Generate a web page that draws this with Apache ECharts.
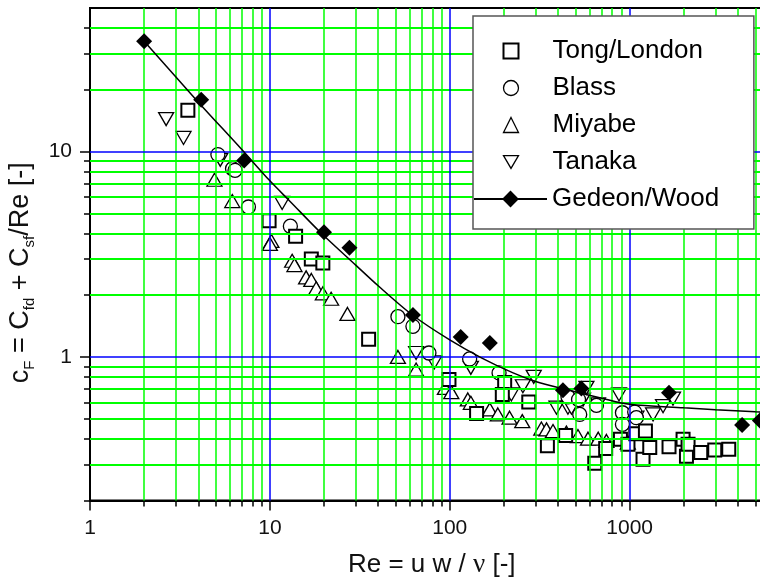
<!DOCTYPE html>
<html><head><meta charset="utf-8">
<script src="https://cdn.jsdelivr.net/npm/echarts@6/dist/echarts.min.js"></script>
<style>html,body{margin:0;padding:0;background:#fff}#c{width:760px;height:585px}</style>
</head><body><div id="c"></div>
<script>
// ---- axis ticks / labels ----
const xMajorTicks = [1, 10, 100, 1000, 10000];
const xMinorTicks = [2,3,4,5,6,7,8,9,20,30,40,50,60,70,80,90,200,300,400,500,600,700,800,900,2000,3000,4000,5000,6000,7000,8000,9000];
const yMajorTicks = [1, 10];
const yMinorTicks = [0.2,0.3,0.4,0.5,0.6,0.7,0.8,0.9,2,3,4,5,6,7,8,9,20,30,40];
const xLabels = [1, 10, 100, 1000];
const yLabels = [1, 10];
const xBlueLines = [10, 100, 1000];
const yBlueLines = [1, 10];
const xGreenLines = [2,3,4,5,6,7,8,9,20,30,40,50,60,70,80,90,200,300,400,500,600,700,800,900,2000,3000,4000,5000,6000,7000,8000,9000];
const yGreenLines = [0.3,0.4,0.5,0.6,0.7,0.8,0.9,2,3,4,5,6,7,8,9,20,30,40];

// ---- series data [Re, cF] ----
const tongLondon = [[3.5,15.9],[9.9,4.6],[13.9,3.87],[17,3.0],[19.7,2.87],[35.4,1.22],[99,0.776],[141,0.53],[202,0.75],[196,0.657],[275,0.603],[349,0.369],[441,0.415],[640,0.304],[736,0.358],[889,0.397],[979,0.376],[1082,0.423],[1187,0.318],[1224,0.436],[1294,0.362],[1656,0.365],[1982,0.397],[2070,0.328],[2113,0.376],[2485,0.343],[2973,0.352],[3557,0.355]];
const blass = [[5.14,9.67],[6.2,8.25],[6.4,8.1],[7.6,5.37],[13,4.33],[51.5,1.57],[62.4,1.41],[76.6,1.045],[129,0.978],[188,0.836],[454,0.64],[520,0.62],[528,0.525],[654,0.581],[912,0.535],[912,0.47],[1067,0.539],[1090,0.506]];
const miyabe = [[4.92,7.29],[6.18,5.74],[10.2,3.67],[10.0,3.55],[13.3,2.94],[13.7,2.8],[15.9,2.44],[17,2.37],[18.1,2.16],[19.7,2.04],[21.9,1.92],[27,1.62],[51.5,1.0],[65,0.868],[94,0.707],[102,0.674],[126,0.621],[131,0.598],[167,0.555],[185,0.525],[215,0.506],[253,0.487],[323,0.448],[345,0.444],[375,0.436],[445,0.428],[516,0.412],[587,0.40],[669,0.40],[743,0.39],[977,0.383]];
const tanaka = [[2.65,14.4],[3.31,11.65],[5.3,9.12],[11.7,5.62],[65,1.045],[82,0.94],[131,0.885],[198,0.64],[220,0.657],[255,0.72],[293,0.80],[392,0.566],[454,0.566],[475,0.566],[551,0.62],[575,0.707],[667,0.588],[873,0.657],[1091,0.506],[1350,0.525],[1534,0.576],[1742,0.626]];
const gedeonPoints = [[2,34.4],[4.15,17.9],[7.2,9.04],[20,4.05],[27.7,3.4],[62.4,1.6],[115,1.25],[167,1.17],[426,0.689],[539,0.702],[1656,0.669],[4220,0.466],[5300,0.49]];
const gedeonCurve = [[2,34.4],[4,17.4],[7,10.2],[10,7.2],[13,5.7],[19,4.06],[30,2.8],[40,2.22],[62,1.6],[100,1.21],[150,0.99],[225,0.836],[300,0.76],[445,0.694],[700,0.63],[1000,0.588],[2000,0.565],[3000,0.553],[5000,0.541],[7000,0.535]];

const FONT = "'Liberation Sans', Arial, sans-serif";
const downTri = 'path://M0,0L14,0L7,12Z';
const openStyle = {color:'#fff', borderColor:'#000', borderWidth:1.3, opacity:1};
const squareStyle = {color:'#fff', borderColor:'#000', borderWidth:2, opacity:1};
const X0 = 1, X1 = 10000;

const chart = echarts.init(document.getElementById('c'), null, {renderer:'canvas'});
const fmt = v => String(+Number(v).toPrecision(6));

function vLines(xs, color, w){
  return {
    type:'line', data:[], xAxisIndex:0, yAxisIndex:0, silent:true, z:1,
    markLine:{silent:true, animation:false, symbol:['none','none'], label:{show:false},
      lineStyle:{color:color, width:w, type:'solid', opacity:1}, emphasis:{disabled:true},
      data: xs.map(v=>({xAxis:v}))}
  };
}
function hLines(ys, color, w){
  return {
    type:'line', data:[], xAxisIndex:0, yAxisIndex:0, silent:true, z:1,
    markLine:{silent:true, animation:false, symbol:['none','none'], label:{show:false},
      lineStyle:{color:color, width:w, type:'solid', opacity:1}, emphasis:{disabled:true},
      data: ys.map(v=>[{coord:[X0, v]},{coord:[X1, v]}])}
  };
}

const option = {
  animation:false,
  backgroundColor:'#fff',
  grid:{left:90, top:8, width:719.5, height:492.5, show:true, borderColor:'#000', borderWidth:2, backgroundColor:'#fff', containLabel:false, outerBoundsMode:'none'},
  xAxis:[
    {type:'log', logBase:10, min:X0, max:X1, position:'bottom',
     axisLine:{show:true, lineStyle:{color:'#000', width:2}},
     axisTick:{show:true, customValues:xMajorTicks, length:10, lineStyle:{color:'#000', width:1.5}},
     axisLabel:{show:true, customValues:xLabels, formatter:fmt, fontSize:21, color:'#111', fontFamily:FONT, margin:17},
     splitLine:{show:false}, minorTick:{show:false},
     name:'{t|Re = u w / }{n|ν}{t| [-]}', nameLocation:'middle', nameGap:51,
     nameTextStyle:{padding:[0,36,0,0], rich:{t:{fontSize:26, fontFamily:FONT, color:'#111'}, n:{fontSize:27, fontFamily:"'Liberation Serif', serif", color:'#111'}}}
    },
    {type:'log', logBase:10, min:X0, max:X1, position:'bottom',
     axisLine:{show:false}, axisLabel:{show:false}, splitLine:{show:false},
     axisTick:{show:true, customValues:xMinorTicks, length:6, lineStyle:{color:'#000', width:1.5}}
    }
  ],
  yAxis:[
    {type:'log', logBase:10, min:0.2, max:50, position:'left',
     axisLine:{show:true, lineStyle:{color:'#000', width:2}},
     axisTick:{show:true, customValues:yMajorTicks, length:10, lineStyle:{color:'#000', width:1.5}},
     axisLabel:{show:true, customValues:yLabels, formatter:fmt, fontSize:21, color:'#111', fontFamily:FONT, margin:18},
     splitLine:{show:false}, minorTick:{show:false},
     name:'{t|c}{s|F}{t| = C}{s|fd}{t| + C}{s|sf}{t|/Re [-]}', nameLocation:'middle', nameGap:46,
     nameTextStyle:{padding:[0,37,0,0], rich:{t:{fontSize:27, fontFamily:FONT, color:'#111', lineHeight:34, verticalAlign:'middle'}, s:{fontSize:15, fontFamily:FONT, color:'#111', lineHeight:17, verticalAlign:'bottom'}}}
    },
    {type:'log', logBase:10, min:0.2, max:50, position:'left',
     axisLine:{show:false}, axisLabel:{show:false}, splitLine:{show:false},
     axisTick:{show:true, customValues:yMinorTicks, length:6, lineStyle:{color:'#000', width:1.5}}
    }
  ],
  legend:[
    {orient:'vertical', left:473, top:16, padding:[20,51,52,29.5], itemWidth:15, itemHeight:15, itemGap:7,
     backgroundColor:'#fff', borderColor:'#555', borderWidth:1.5, z:9, selectedMode:false,
     textStyle:{fontSize:26, fontFamily:FONT, color:'#000', lineHeight:30, padding:[0,0,0,29]},
     data:[
       {name:'Tong/London', icon:'rect', itemStyle:squareStyle},
       {name:'Blass', icon:'circle', itemStyle:openStyle},
       {name:'Miyabe', icon:'triangle', itemStyle:openStyle},
       {name:'Tanaka', icon:downTri, itemStyle:openStyle}
     ]},
    {orient:'vertical', left:473, top:184, padding:0, itemWidth:73, itemHeight:21, z:10, selectedMode:false,
     textStyle:{fontSize:26, fontFamily:FONT, color:'#000', lineHeight:30},
     data:['Gedeon/Wood']}
  ],
  series:[
    vLines(xGreenLines, '#00ff00', 1.5),
    hLines(yGreenLines, '#00ff00', 2),
    vLines(xBlueLines, '#0000ff', 1.5),
    hLines(yBlueLines, '#0000ff', 1.5),
    {name:'Miyabe', type:'scatter', data:miyabe, symbol:'triangle', symbolSize:[15,13], itemStyle:openStyle, z:3, emphasis:{disabled:true}},
    {name:'Tanaka', type:'scatter', data:tanaka, symbol:downTri, symbolSize:[15,13], itemStyle:openStyle, z:3, emphasis:{disabled:true}},
    {name:'Blass', type:'scatter', data:blass, symbol:'circle', symbolSize:14, itemStyle:openStyle, z:3, emphasis:{disabled:true}},
    {name:'Tong/London', type:'scatter', data:tongLondon, symbol:'rect', symbolSize:13, itemStyle:squareStyle, z:4, emphasis:{disabled:true}},
    {name:'Gedeon/Wood', type:'line', data:gedeonCurve, smooth:0.3, showSymbol:false, symbol:'diamond', color:'#000', lineStyle:{color:'#000', width:1.5}, itemStyle:{color:'#000'}, z:5, emphasis:{disabled:true}},
    {name:'Gedeon/Wood', type:'scatter', data:gedeonPoints, symbol:'diamond', symbolSize:16, itemStyle:{color:'#000', opacity:1}, z:6, emphasis:{disabled:true}}
  ]
};
chart.setOption(option);
</script>
</body></html>
